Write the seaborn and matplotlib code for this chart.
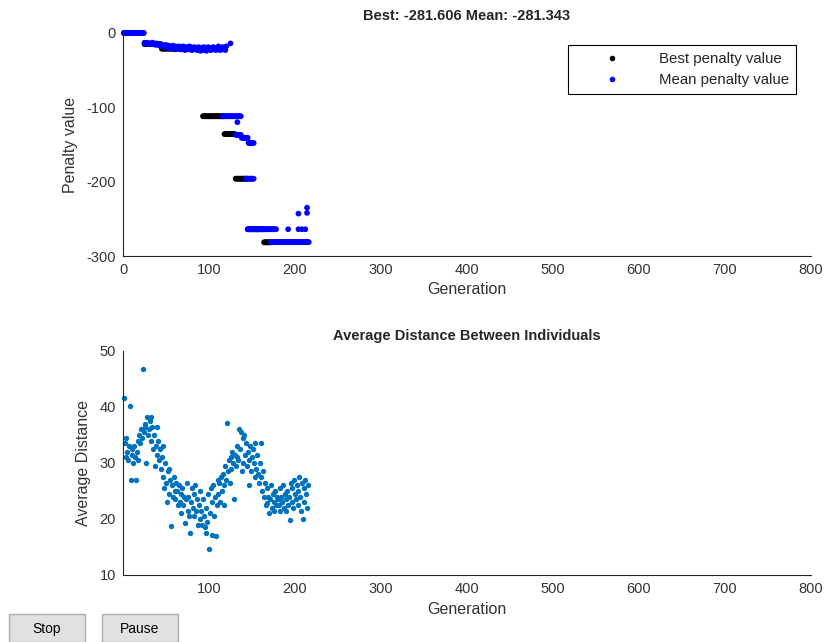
import numpy as np
import pandas as pd
import matplotlib
matplotlib.use("Agg")
import matplotlib.pyplot as plt
import seaborn as sns
from matplotlib.patches import Rectangle

# ---- data ----
best_title = "Best: -281.606 Mean: -281.343"

# best penalty: held level from start gen to end gen (inclusive)
best_start = [1, 25, 45, 93, 118, 131, 145, 164]
best_end = [24, 44, 92, 117, 130, 144, 163, 172]
best_level = [0, -15, -21, -112, -136, -196, -264, -281.606]

# mean penalty: flat runs
mean_start = [1, 116, 131, 138, 146, 143, 145, 172]
mean_end = [24, 137, 137, 145, 152, 152, 178, 216]
mean_level = [0, -112, -137, -141, -148, -196, -264, -281.343]

# mean penalty, noisy stretch gens 25..120
mean_band_first_gen = 25
mean_band = [
    -13, -14, -14, -13, -15, -14, -14, -15, -14, -13, -15, -14, -15, -16, -14, -15, -16, -15, -17, -16,
    -17, -16, -18, -17, -19, -16, -18, -20, -17, -19, -21, -18, -20, -17, -19, -22, -18, -20, -21, -19,
    -18, -20, -22, -19, -21, -18, -20, -23, -19, -21, -20, -22, -18, -21, -19, -23, -20, -22, -19, -21,
    -20, -23, -21, -19, -22, -24, -20, -21, -23, -19, -22, -20, -24, -21, -19, -22, -20, -23, -21, -22,
    -19, -22, -21, -23, -20, -22, -18, -21, -23, -20, -22, -19, -21, -20, -23, -18,
]

# stray mean points
mean_extra_gen = [125, 133, 192, 204, 208, 212, 204, 214, 214]
mean_extra_val = [-14, -120, -264, -264, -264, -264, -243, -235, -242]

# average distance between individuals, gens 1..215
avg_distance = [
    41.6, 33.5, 31.0, 34.5, 32.0, 30.5, 33.0, 40.2, 27.0, 31.5,
    32.5, 30.0, 33.0, 31.0, 27.0, 32.0, 34.0, 30.5, 35.0, 33.5,
    36.0, 34.5, 46.8, 35.5, 37.0, 36.5, 30.0, 38.2, 35.0, 36.0,
    37.5, 34.0, 38.3, 36.5, 32.5, 35.0, 29.5, 33.0, 36.5, 31.5,
    34.0, 30.5, 32.5, 29.0, 31.0, 27.5, 33.0, 25.5, 30.0, 26.5,
    23.0, 28.5, 29.0, 24.5, 27.0, 18.8, 26.0, 24.0, 27.5, 25.0,
    23.5, 26.5, 25.0, 22.5, 26.0, 23.0, 24.5, 21.0, 25.5, 22.5,
    24.0, 19.2, 23.5, 26.5, 21.5, 24.0, 20.5, 17.5, 23.0, 25.5,
    22.0, 24.5, 20.5, 26.0, 21.5, 23.5, 19.0, 22.5, 25.0, 20.0,
    21.5, 19.0, 23.5, 20.5, 18.5, 22.0, 17.5, 19.5, 24.5, 14.6,
    21.0, 25.5, 17.2, 23.0, 26.0, 20.5, 24.0, 17.0, 22.5, 27.0,
    24.5, 26.5, 23.0, 27.5, 25.0, 28.0, 22.5, 26.0, 29.5, 27.0,
    37.2, 28.5, 30.5, 26.5, 31.0, 29.0, 32.0, 30.0, 23.5, 31.5,
    29.5, 33.0, 31.0, 30.5, 36.0, 32.5, 35.5, 28.5, 34.5, 30.0,
    35.0, 31.5, 33.5, 29.5, 32.0, 26.0, 30.5, 33.0, 28.5, 31.0,
    32.5, 30.0, 27.5, 33.5, 29.0, 31.5, 28.0, 26.5, 30.0, 33.5,
    27.5, 25.0, 28.5, 24.0, 26.5, 22.5, 25.5, 22.8, 24.0, 21.0,
    23.5, 26.0, 22.0, 24.5, 21.5, 23.0, 25.0, 22.5, 24.0, 23.5,
    22.5, 25.5, 21.5, 24.0, 23.0, 26.0, 22.0, 24.5, 23.5, 21.5,
    25.0, 22.5, 24.0, 19.8, 26.5, 23.0, 25.5, 22.0, 27.0, 24.5,
    23.5, 26.0, 22.5, 25.0, 27.5, 24.0, 21.5, 26.5, 20.0, 25.5,
    23.0, 27.0, 24.5, 22.0, 26.0,
]


def expand_runs(starts, ends, levels):
    gens, vals = [], []
    for s, e, v in zip(starts, ends, levels):
        g = np.arange(s, e + 1)
        gens.extend(g)
        vals.extend([v] * len(g))
    return gens, vals


bg, bv = expand_runs(best_start, best_end, best_level)
mg, mv = expand_runs(mean_start, mean_end, mean_level)
mg += list(range(mean_band_first_gen, mean_band_first_gen + len(mean_band)))
mv += mean_band
mg += mean_extra_gen
mv += mean_extra_val

penalty = pd.DataFrame({
    "Generation": bg + mg,
    "Penalty": bv + mv,
    "series": ["Best penalty value"] * len(bg) + ["Mean penalty value"] * len(mg),
})
distance = pd.DataFrame({
    "Generation": np.arange(1, len(avg_distance) + 1),
    "Distance": avg_distance,
})

# ---- styling ----
sns.set_style("white")
plt.rcParams["font.family"] = ["Liberation Sans", "DejaVu Sans"]
plt.rcParams["axes.unicode_minus"] = False
axis_grey = "#262626"

fig = plt.figure(figsize=(8.32, 6.42), dpi=100)
ax1 = fig.add_axes([123 / 832, 1 - 256 / 642, 688 / 832, 223 / 642])
ax2 = fig.add_axes([123 / 832, 1 - 575 / 642, 688 / 832, 224 / 642])

sns.scatterplot(data=penalty, x="Generation", y="Penalty", hue="series",
                palette={"Best penalty value": "black", "Mean penalty value": "#0000ff"},
                s=17, linewidth=0, ax=ax1, legend=False, clip_on=False)
sns.scatterplot(data=distance, x="Generation", y="Distance", color="#0072bd",
                s=15, linewidth=0, ax=ax2, clip_on=False)

for ax in (ax1, ax2):
    sns.despine(ax=ax)
    for side in ("left", "bottom"):
        ax.spines[side].set_color(axis_grey)
        ax.spines[side].set_linewidth(0.8)
    ax.tick_params(direction="in", length=4, width=0.8, colors=axis_grey,
                   labelsize=10.5, pad=5, labelcolor="#333333")
    ax.set_xlabel("Generation", fontsize=11.5, color="#333333", labelpad=4)

ax1.set_xlim(0, 800)
ax1.set_ylim(-300, 0)
ax1.set_xticks(range(0, 801, 100))
ax1.set_yticks([-300, -200, -100, 0])
ax1.set_ylabel("Penalty value", fontsize=11.5, color="#333333", labelpad=6)
ax1.set_title(best_title, fontsize=10.5, fontweight="bold", pad=9)

ax2.set_xlim(0, 800)
ax2.set_ylim(10, 50)
ax2.set_xticks(range(100, 801, 100))
ax2.set_yticks([10, 20, 30, 40, 50])
ax2.set_ylabel("Average Distance", fontsize=11.5, color="#333333", labelpad=6)
ax2.set_title("Average Distance Between Individuals", fontsize=10.5,
              fontweight="bold", pad=8)

# legend for the penalty panel
h_best = plt.Line2D([], [], ls="", marker="o", ms=3, color="black")
h_mean = plt.Line2D([], [], ls="", marker="o", ms=3, color="#0000ff")
leg = ax1.legend([h_best, h_mean], ["Best penalty value", "Mean penalty value"],
                 loc="upper right", bbox_to_anchor=(0.978, 0.946), fontsize=10.8,
                 fancybox=False, framealpha=1, edgecolor="black",
                 handlelength=5.0, handletextpad=0.6, borderpad=0.45,
                 labelspacing=0.5, borderaxespad=0)
leg.get_frame().set_linewidth(0.8)

# Stop / Pause buttons of the GA window
for x0, label in [(9, "Stop"), (102, "Pause")]:
    fig.patches.append(Rectangle((x0 / 832, 0), 76 / 832, 28 / 642,
                                 transform=fig.transFigure, facecolor="#e1e1e1",
                                 edgecolor="#adadad", linewidth=1))
    fig.text((x0 + 38) / 832, 13 / 642, label, ha="center", va="center",
             fontsize=10, color="black")

fig.savefig("out.png", dpi=100)
